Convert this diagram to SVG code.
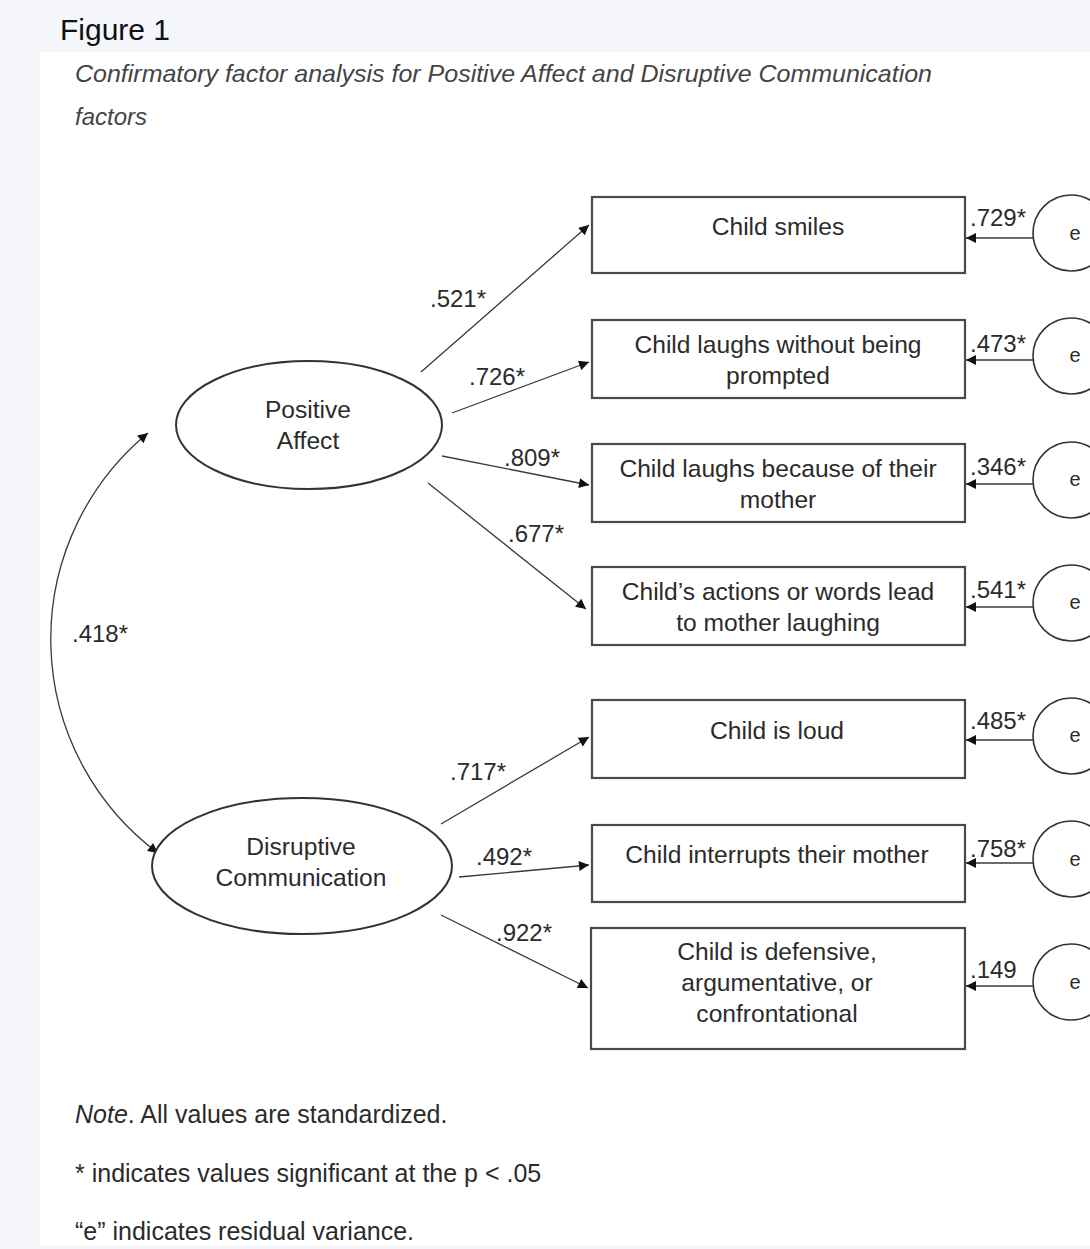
<svg xmlns="http://www.w3.org/2000/svg" width="1090" height="1249" viewBox="0 0 1090 1249">
<defs>
<style>
text{font-family:"Liberation Sans",Arial,sans-serif;fill:#2b2b2b}
.box{fill:#fff;stroke:#4a4a4a;stroke-width:2.2}
.lat{fill:#fff;stroke:#333;stroke-width:2}
.err{fill:#fff;stroke:#333;stroke-width:1.6}
.t{font-size:24.6px;text-anchor:middle}
.lbl{font-size:24px}
.et{font-size:20px;text-anchor:middle}
.c{fill:none;stroke:#3a3a3a;stroke-width:1.3}
.note{font-size:25px}
</style>
<marker id="ah" viewBox="0 0 10 10" refX="10" refY="5" markerWidth="12" markerHeight="10" markerUnits="userSpaceOnUse" orient="auto-start-reverse">
<path d="M0,0 L10,5 L0,10 Z" fill="#111"/>
</marker>
</defs>
<rect width="1090" height="1249" fill="#f4f6fa"/>
<rect x="40" y="52" width="1050" height="1194" fill="#fff"/>
<text x="60" y="40" style="font-size:30px;fill:#111">Figure 1</text>
<text x="75" y="82" style="font-size:24px;font-style:italic;fill:#444" textLength="857" lengthAdjust="spacingAndGlyphs">Confirmatory factor analysis for Positive Affect and Disruptive Communication</text>
<text x="75" y="125" style="font-size:24px;font-style:italic;fill:#444">factors</text>

<g id="connectors">
<path class="c" d="M148,433 A267,267 0 0,0 158,853" marker-start="url(#ah)" marker-end="url(#ah)"/>
<line class="c" x1="421" y1="372" x2="589" y2="225" marker-end="url(#ah)"/>
<line class="c" x1="452" y1="413" x2="589" y2="362" marker-end="url(#ah)"/>
<line class="c" x1="442" y1="456" x2="589" y2="485" marker-end="url(#ah)"/>
<line class="c" x1="428" y1="483" x2="586" y2="609" marker-end="url(#ah)"/>
<line class="c" x1="441" y1="824" x2="589" y2="737" marker-end="url(#ah)"/>
<line class="c" x1="459" y1="877" x2="589" y2="865" marker-end="url(#ah)"/>
<line class="c" x1="441" y1="915" x2="588" y2="988" marker-end="url(#ah)"/>
<line class="c" x1="1033" y1="238" x2="966" y2="238" marker-end="url(#ah)"/>
<line class="c" x1="1033" y1="360" x2="966" y2="360" marker-end="url(#ah)"/>
<line class="c" x1="1033" y1="484" x2="966" y2="484" marker-end="url(#ah)"/>
<line class="c" x1="1033" y1="607" x2="966" y2="607" marker-end="url(#ah)"/>
<line class="c" x1="1033" y1="740" x2="966" y2="740" marker-end="url(#ah)"/>
<line class="c" x1="1033" y1="863" x2="966" y2="863" marker-end="url(#ah)"/>
<line class="c" x1="1033" y1="986" x2="966" y2="986" marker-end="url(#ah)"/>
<text class="lbl" x="72" y="642">.418*</text>
<text class="lbl" x="430" y="307">.521*</text>
<text class="lbl" x="469" y="385">.726*</text>
<text class="lbl" x="504" y="466">.809*</text>
<text class="lbl" x="508" y="542">.677*</text>
<text class="lbl" x="450" y="780">.717*</text>
<text class="lbl" x="476" y="865">.492*</text>
<text class="lbl" x="496" y="941">.922*</text>
<text class="lbl" x="970" y="226">.729*</text>
<text class="lbl" x="970" y="352">.473*</text>
<text class="lbl" x="970" y="475">.346*</text>
<text class="lbl" x="970" y="598">.541*</text>
<text class="lbl" x="970" y="729">.485*</text>
<text class="lbl" x="970" y="857">.758*</text>
<text class="lbl" x="970" y="978">.149</text>
</g>

<g id="pa"><ellipse class="lat" cx="309" cy="425" rx="133" ry="64"/><text class="t" x="308" y="418">Positive</text><text class="t" x="308" y="449">Affect</text></g>
<g id="dc"><ellipse class="lat" cx="302" cy="866" rx="150" ry="68"/><text class="t" x="301" y="855">Disruptive</text><text class="t" x="301" y="886">Communication</text></g>

<g id="b1"><rect class="box" x="592" y="197" width="373" height="76"/><text class="t" x="778" y="235">Child smiles</text></g>
<g id="b2"><rect class="box" x="592" y="320" width="373" height="78"/><text class="t" x="778" y="353">Child laughs without being</text><text class="t" x="778" y="384">prompted</text></g>
<g id="b3"><rect class="box" x="592" y="444" width="373" height="78"/><text class="t" x="778" y="477">Child laughs because of their</text><text class="t" x="778" y="508">mother</text></g>
<g id="b4"><rect class="box" x="592" y="567" width="373" height="78"/><text class="t" x="778" y="600">Child’s actions or words lead</text><text class="t" x="778" y="631">to mother laughing</text></g>
<g id="b5"><rect class="box" x="592" y="700" width="373" height="78"/><text class="t" x="777" y="739">Child is loud</text></g>
<g id="b6"><rect class="box" x="592" y="825" width="373" height="77"/><text class="t" x="777" y="863">Child interrupts their mother</text></g>
<g id="b7"><rect class="box" x="591" y="928" width="374" height="121"/><text class="t" x="777" y="960">Child is defensive,</text><text class="t" x="777" y="991">argumentative, or</text><text class="t" x="777" y="1022">confrontational</text></g>

<g id="e1"><circle class="err" cx="1071" cy="233" r="38"/><text class="et" x="1075" y="240">e</text></g>
<g id="e2"><circle class="err" cx="1071" cy="356" r="38"/><text class="et" x="1075" y="362">e</text></g>
<g id="e3"><circle class="err" cx="1071" cy="480" r="38"/><text class="et" x="1075" y="486">e</text></g>
<g id="e4"><circle class="err" cx="1071" cy="603" r="38"/><text class="et" x="1075" y="609">e</text></g>
<g id="e5"><circle class="err" cx="1071" cy="736" r="38"/><text class="et" x="1075" y="742">e</text></g>
<g id="e6"><circle class="err" cx="1071" cy="859" r="38"/><text class="et" x="1075" y="866">e</text></g>
<g id="e7"><circle class="err" cx="1071" cy="982" r="38"/><text class="et" x="1075" y="989">e</text></g>

<text class="note" x="75" y="1123"><tspan font-style="italic">Note</tspan>. All values are standardized.</text>
<text class="note" x="75" y="1182">* indicates values significant at the p &lt; .05</text>
<text class="note" x="75" y="1240">“e” indicates residual variance.</text>
</svg>
